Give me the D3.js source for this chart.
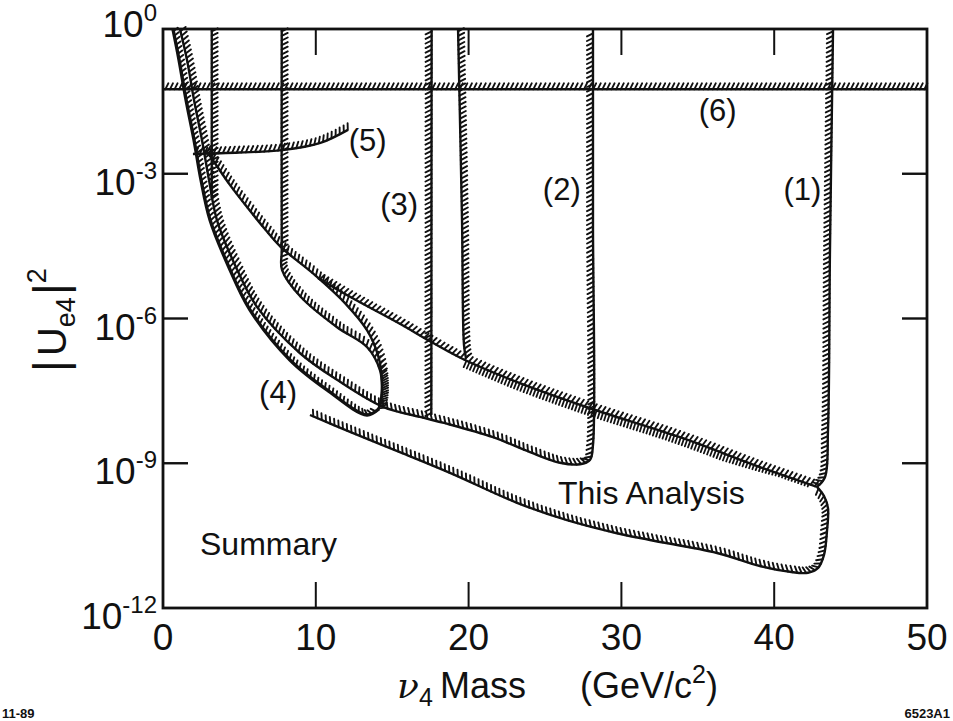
<!DOCTYPE html>
<html>
<head>
<meta charset="utf-8">
<script src="https://cdn.jsdelivr.net/npm/d3@7"></script>
<style>
  body { margin: 0; background: #fff; }
  svg { display: block; }
  text { font-family: "Liberation Sans", Arial, Helvetica, sans-serif; fill: #111; }
</style>
</head>
<body>
<svg id="chart" width="953" height="721"></svg>
<script>
// every curve is a list of [mass (GeV/c^2), log10 |Ue4|^2]
const massTicks = [0, 10, 20, 30, 40, 50];
const expTicks = [0, -3, -6, -9, -12];

const line6 = [[0, -1.25], [50, -1.25]];
const line5 = [[1.96, -2.59], [5.0, -2.56], [7.8, -2.51], [10.3, -2.36], [12.1, -2.09]];
const lineMass3 = [[3.19, 0], [3.19, -3.54]];
// vertical line at ~7.8 running into the lower edge of the lens
const lineMass8 = [[7.77, 0], [7.77, -4.58], [7.79, -4.99], [9.01, -5.55], [11.39, -6.18], [13.35, -6.59],
  [14.2, -7.07], [14.33, -7.48], [14.2, -7.83]];
const line3 = [[17.58, 0], [17.56, -8.0]];
const line2left = [[19.31, 0], [19.57, -3.96], [19.7, -6.55], [19.83, -6.82]];
const line1 = [[43.85, 0], [43.65, -4.58], [43.52, -8.31], [43.32, -9.29], [42.8, -9.49]];

const curveA = [[0.65, 0], [1.05, -0.64], [1.51, -1.47], [2.03, -2.3], [2.49, -3.13], [3.08, -3.96],
  [4.25, -4.89], [5.69, -5.82], [8.31, -6.86], [10.73, -7.48], [13.35, -8.0], [14.14, -7.87]];
// curve B runs into the bottom of region (2) and up its right edge
const curveB = [[1.11, 0], [1.57, -0.64], [2.03, -1.47], [2.55, -2.3], [3.01, -3.13], [3.53, -3.96],
  [4.71, -4.89], [6.15, -5.76], [8.97, -6.72], [11.39, -7.27], [14.4, -7.83], [16.82, -8.04],
  [18.46, -8.17], [21.6, -8.46], [24.02, -8.77], [25.98, -8.99], [27.29, -9.02], [27.94, -8.93],
  [28.14, -8.62], [28.14, -4], [28.14, 0]];
const curveU = [[2.81, -2.51], [3.27, -2.72], [4.38, -3.23], [5.5, -3.69], [6.68, -4.15], [7.72, -4.52],
  [9.95, -5.1], [11.91, -5.68], [13.35, -6.24], [14.07, -6.76], [14.33, -7.27], [14.27, -7.69], [14.07, -7.9]];
const topLine = [[10.14, -5.16], [12.24, -5.55], [15.5, -6.11], [17.47, -6.47], [19.76, -6.86],
  [23.36, -7.34], [27.94, -7.86], [33.84, -8.46], [39.07, -9.08], [42.8, -9.49]];
const band = [[19.76, -6.86], [23.36, -7.34], [27.94, -7.86], [33.84, -8.46], [39.07, -9.08], [42.3, -9.44]];
const thisAnalysis = [[42.8, -9.49], [43.26, -9.68], [43.52, -9.93], [43.46, -10.38], [43.26, -10.9],
  [42.87, -11.17], [42.21, -11.27], [41.03, -11.25], [39.07, -11.13], [36.26, -10.86], [31.87, -10.59],
  [29.71, -10.45], [26.44, -10.18], [23.17, -9.82], [18.78, -9.2], [15.5, -8.77], [12.24, -8.35], [9.62, -8.0]];

const labels = [
  { text: "(1)", m: 41.85, e: -3.54 },
  { text: "(2)", m: 26.1, e: -3.54 },
  { text: "(3)", m: 15.45, e: -3.85 },
  { text: "(4)", m: 7.53, e: -7.75 },
  { text: "(5)", m: 13.4, e: -2.53 },
  { text: "(6)", m: 36.3, e: -1.91 }
];

const svg = d3.select("#chart");
const x = d3.scaleLinear().domain([0, 50]).range([163, 927]);
const y = d3.scaleLog().domain([1e-12, 1]).range([608, 29]);
const px = d => x(d[0]);
const py = d => y(Math.pow(10, d[1]));
const line = d3.line().x(px).y(py).curve(d3.curveCatmullRom.alpha(0.5));

const g = svg.append("g");

// draws a curve with little slanted ticks on one side
function hatched(pts, o) {
  const path = g.append("path").attr("d", line(pts)).attr("fill", "none")
    .attr("stroke", "#111").attr("stroke-width", o.w || 2.4).attr("stroke-linejoin", "round");
  if (!o.side) return;
  const node = path.node();
  const L = node.getTotalLength();
  const step = o.step || 4.6, len = o.len || 6, side = o.side, slant = o.slant == null ? -0.5 : o.slant;
  let d = "";
  for (let s = step / 2; s < L; s += step) {
    const p = node.getPointAtLength(s);
    const a = node.getPointAtLength(Math.max(0, s - 1));
    const b = node.getPointAtLength(Math.min(L, s + 1));
    let tx = b.x - a.x, ty = b.y - a.y;
    const n = Math.hypot(tx, ty) || 1;
    tx /= n; ty /= n;
    const nx = -ty * side, ny = tx * side;
    // ladder rungs shrink towards the end of the band
    const k = o.taper ? Math.max(0.35, Math.min(1, (L - s) / o.taper)) : 1;
    d += `M${p.x.toFixed(1)},${p.y.toFixed(1)}L${(p.x + (nx + tx * slant) * len * k).toFixed(1)},${(p.y + (ny + ty * slant) * len * k).toFixed(1)}`;
  }
  g.append("path").attr("d", d).attr("fill", "none").attr("stroke", "#111")
    .attr("stroke-width", o.tw || 1.9).attr("stroke-linecap", "round");
}

hatched(line6, { side: -1, slant: 0.5 });
hatched(line5, { side: -1, slant: 0.5 });
hatched(lineMass3, { side: -1 });
hatched(lineMass8, { side: -1 });
hatched(line3, { side: 1, slant: 0.5 });
hatched(line2left, { side: -1 });
hatched(line1, { side: 1, slant: 0.5 });
hatched(curveA, { side: -1, w: 3.4, len: 5 });
hatched(curveB, { side: -1 });
hatched(curveU, { side: -1 });
hatched(topLine, { side: -1, slant: 0.3 });
hatched(band, { side: 1, step: 3.4, len: 7, slant: 0, w: 0.1, tw: 1.8, taper: 90 });
hatched(thisAnalysis, { side: 1, slant: 0.5 });

// frame
svg.append("rect").attr("x", 163).attr("y", 29).attr("width", 764).attr("height", 579)
  .attr("fill", "none").attr("stroke", "#111").attr("stroke-width", 2.8);

// ticks
const inner = massTicks.slice(1, -1);
svg.append("g").selectAll("line").data(inner).join("line")
  .attr("x1", d => x(d)).attr("x2", d => x(d)).attr("y1", 608).attr("y2", 582)
  .attr("stroke", "#111").attr("stroke-width", 2);
svg.append("g").selectAll("line").data(inner).join("line")
  .attr("x1", d => x(d)).attr("x2", d => x(d)).attr("y1", 29).attr("y2", 55)
  .attr("stroke", "#111").attr("stroke-width", 2);
const innerE = expTicks.slice(1, -1);
svg.append("g").selectAll("line").data(innerE).join("line")
  .attr("x1", 163).attr("x2", 188).attr("y1", d => y(Math.pow(10, d))).attr("y2", d => y(Math.pow(10, d)))
  .attr("stroke", "#111").attr("stroke-width", 2.4);
svg.append("g").selectAll("line").data(innerE).join("line")
  .attr("x1", 902).attr("x2", 927).attr("y1", d => y(Math.pow(10, d))).attr("y2", d => y(Math.pow(10, d)))
  .attr("stroke", "#111").attr("stroke-width", 2.4);

// tick labels
svg.append("g").selectAll("text").data(massTicks).join("text")
  .attr("x", d => x(d)).attr("y", 650).attr("text-anchor", "middle")
  .attr("font-size", 37).text(d => d);

const ylab = svg.append("g").selectAll("text").data(expTicks).join("text")
  .attr("x", 157).attr("y", d => y(Math.pow(10, d)) + (d === 0 ? 8 : 21))
  .attr("text-anchor", "end").attr("font-size", 37);
ylab.append("tspan").text("10");
ylab.append("tspan").attr("dy", -16).attr("font-size", 24).text(d => d === 0 ? "0" : "-" + (-d));

// region labels
svg.append("g").selectAll("text").data(labels).join("text")
  .attr("x", d => x(d.m)).attr("y", d => y(Math.pow(10, d.e)))
  .attr("text-anchor", "middle").attr("font-size", 31).text(d => d.text);

svg.append("text").attr("x", 558).attr("y", 504).attr("font-size", 32).text("This Analysis");
svg.append("text").attr("x", 200).attr("y", 555).attr("font-size", 32).text("Summary");

// axis titles
const xt = svg.append("text").attr("x", 397).attr("y", 698).attr("font-size", 36);
xt.append("tspan").attr("font-family", "DejaVu Serif, serif").attr("font-style", "italic").text("ν");
xt.append("tspan").attr("dy", 8).attr("font-size", 25).text("4");
xt.append("tspan").attr("x", 440).attr("dy", -8).text("Mass");
xt.append("tspan").attr("x", 580).text("(GeV/c");
xt.append("tspan").attr("dy", -15).attr("font-size", 25).text("2");
xt.append("tspan").attr("dy", 15).text(")");

const yt = svg.append("text").attr("transform", "translate(66,372) rotate(-90)").attr("font-size", 40);
yt.append("tspan").attr("font-size", 46).text("|");
yt.append("tspan").attr("dx", 4).text("U");
yt.append("tspan").attr("dy", 9).attr("font-size", 27).text("e4");
yt.append("tspan").attr("dy", -9).attr("dx", 2).attr("font-size", 46).text("|");
yt.append("tspan").attr("dy", -20).attr("font-size", 27).text("2");

svg.append("text").attr("x", 2).attr("y", 718).attr("font-size", 13).attr("font-weight", "bold").text("11-89");
svg.append("text").attr("x", 950).attr("y", 718).attr("text-anchor", "end").attr("font-size", 13).attr("font-weight", "bold").text("6523A1");
</script>
</body>
</html>
